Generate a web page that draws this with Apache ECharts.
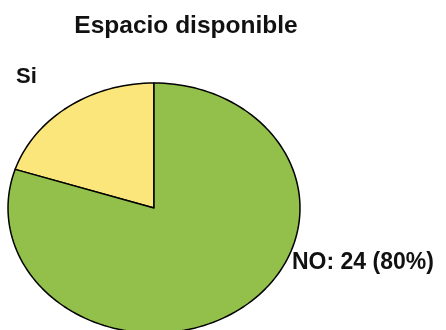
<!DOCTYPE html>
<html>
<head>
    <meta charset="utf-8">
    <title>Espacio disponible</title>
    <script src="https://cdn.jsdelivr.net/npm/echarts@6/dist/echarts.min.js"></script>
    <style>
        html, body { margin: 0; padding: 0; background: #fff; }
    </style>
</head>
<body>
    <div id="main" style="width: 446px;height:330px;"></div>
    <script type="text/javascript">
        var categories = ['Si', 'NO'];
        var values = [6, 24];
        var colors = ['#fbe67c', '#92c04a'];

        var myChart = echarts.init(document.getElementById('main'));

        var total = values.reduce(function (a, b) { return a + b; }, 0);
        // elliptical pie: center and radii
        var cx = 154, cy = 208, rx = 146, ry = 125;

        function slicePoints(idx) {
            var before = 0;
            for (var i = 0; i < idx; i++) before += values[i];
            var a0 = 90 + before / total * 360;
            var a1 = 90 + (before + values[idx]) / total * 360;
            var pts = [[cx, cy]];
            var steps = Math.max(2, Math.ceil((a1 - a0) / 2));
            for (var s = 0; s <= steps; s++) {
                var a = (a0 + (a1 - a0) * s / steps) * Math.PI / 180;
                pts.push([cx + rx * Math.cos(a), cy - ry * Math.sin(a)]);
            }
            return pts;
        }

        var option = {
            animation: false,
            title: {
                text: 'Espacio disponible',
                left: 181,
                top: 9,
                textAlign: 'center',
                textStyle: { fontFamily: 'Liberation Sans', fontWeight: 'bold', fontSize: 24.5, color: '#111' }
            },
            graphic: [
                { type: 'text', left: 16, top: 66, style: { text: 'Si', font: 'bold 22px "Liberation Sans"', fill: '#111' } },
                { type: 'text', left: 292, top: 251, style: { text: 'NO: 24 (80%)', font: 'bold 23px "Liberation Sans"', fill: '#111' } }
            ],
            series: [{
                type: 'custom',
                coordinateSystem: 'none',
                data: values.map(function (v, i) { return { name: categories[i], value: v }; }),
                renderItem: function (params, api) {
                    var i = params.dataIndex;
                    return {
                        type: 'polygon',
                        shape: { points: slicePoints(i) },
                        style: { fill: colors[i], stroke: '#000', lineWidth: 1.5, lineJoin: 'round' }
                    };
                }
            }]
        };

        myChart.setOption(option);
    </script>
</body>
</html>
